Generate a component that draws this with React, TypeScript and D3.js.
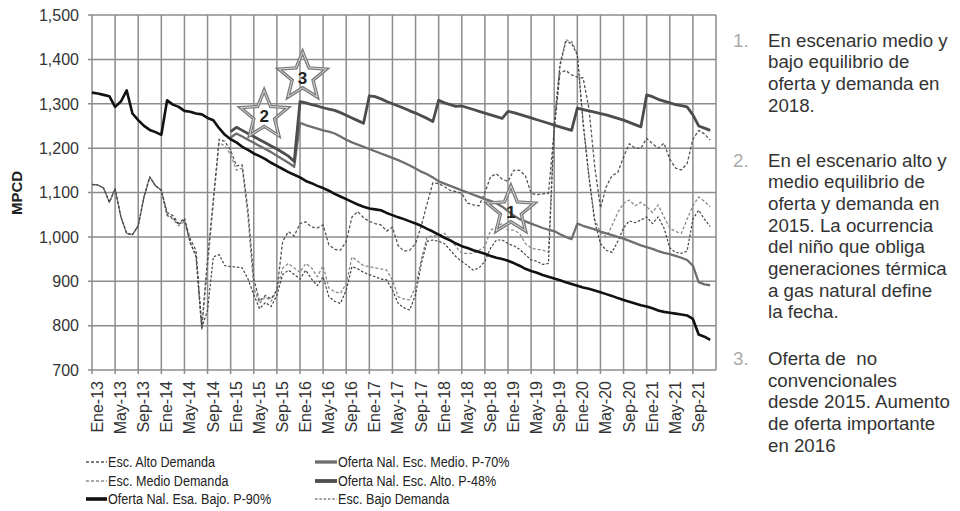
import React from 'react';
import * as d3 from 'd3';

// ---------- DATA ----------
const tickLabels = ["Ene-13","May-13","Sep-13","Ene-14","May-14","Sep-14","Ene-15","May-15","Sep-15","Ene-16","May-16","Sep-16","Ene-17","May-17","Sep-17","Ene-18","May-18","Sep-18","Ene-19","May-19","Sep-19","Ene-20","May-20","Sep-20","Ene-21","May-21","Sep-21"];
const yTicks = [700, 800, 900, 1000, 1100, 1200, 1300, 1400, 1500];

// monthly values Ene-13 .. Dic-21 (108 months)
const altoDemanda = [
  1118,1117,1110,1078,1108,1045,1008,1005,1025,1090,1135,1115,1105,
  1055,1048,1030,1042,995,970,800,950,1085,1220,1215,1195,1160,1162,1060,905,855,868,860,880,990,1012,1002,
  1030,1034,1022,1020,1027,982,972,970,990,1045,1057,1043,1035,1030,1027,1013,1022,980,968,970,985,1025,1075,1122,
  1120,1113,1105,1102,1098,1076,1072,1070,1100,1136,1142,1130,1125,1150,1150,1138,1098,1095,1097,1098,
  1240,1369,1375,1365,1360,1358,1290,1160,1065,1113,1138,1145,1180,1210,1200,1200,1222,1210,1200,1211,1175,1155,1151,1165,1220,1240,1232,1218
];
const medioDemanda = [
  1118,1117,1110,1078,1108,1045,1008,1005,1025,1090,1135,1115,1105,
  1048,1040,1025,1035,985,960,790,935,1075,1212,1205,1185,1150,1155,1045,885,850,865,855,880,930,940,930,
  920,940,930,910,935,885,876,873,895,955,945,935,933,930,928,925,903,865,860,858,888,950,1000,1002,
  1004,1008,995,978,963,963,963,970,978,1015,1023,1030,1015,1015,1008,985,975,972,970,965,
  1255,1390,1444,1440,1414,1260,1140,1040,1010,1000,1025,1055,1076,1083,1070,1078,1068,1055,1072,1045,1020,1012,1008,1040,1070,1090,1080,1068
];
const bajoDemanda = [
  1118,1117,1110,1078,1108,1045,1008,1005,1025,1090,1135,1115,1105,
  1050,1043,1028,1038,988,955,795,835,955,960,935,933,932,930,905,870,838,852,843,868,915,925,915,
  905,925,905,890,910,865,855,850,880,933,928,920,915,910,905,903,880,850,840,835,870,940,990,993,
  990,985,970,955,945,935,925,930,945,975,993,993,985,980,972,960,948,945,938,940,
  1250,1385,1440,1436,1410,1255,1135,1035,985,970,965,990,1020,1036,1032,1038,1045,1030,1045,1020,975,965,963,968,1040,1060,1040,1023
];
const ofertaBajo = [
  1325,1323,1320,1317,1293,1305,1330,1278,1263,1250,1241,1236,1230,
  1308,1298,1293,1284,1282,1278,1276,1268,1263,1245,1230,1220,1213,1203,1196,1188,1182,1175,1167,1160,1153,1146,1140,
  1134,1126,1121,1115,1110,1104,1097,1091,1085,1079,1073,1068,1064,1062,1060,1054,1049,1044,1040,1035,1030,1025,1018,1012,
  1005,998,992,985,979,975,970,966,962,957,953,950,946,941,935,928,923,919,914,910,
  906,902,898,894,890,886,883,879,875,871,867,862,858,854,850,846,843,839,834,831,829,827,825,823,815,780,775,768
];
const N0 = [null,null,null,null,null,null,null,null,null,null,null,null,null,null,null,null,null,null,null,null,null,null,null,null];
const ofertaAlto = [
  ...N0,
  1237,1247,1240,1233,1226,1219,1212,1205,1198,1190,1182,1170,
  1305,1302,1298,1295,1291,1288,1285,1280,1274,1268,1262,1256,
  1318,1316,1311,1305,1300,1295,1290,1284,1279,1273,1267,1260,
  1308,1302,1298,1294,1295,1291,1287,1283,1279,1275,1271,1267,
  1283,1280,1276,1272,1268,1264,1260,1256,1252,1248,1244,1240,
  1290,1287,1284,1281,1278,1275,1271,1267,1263,1258,1253,1248,
  1320,1316,1310,1306,1302,1298,1296,1293,1275,1250,1245,1240
];
const ofertaMedio = [
  ...N0,
  1224,1233,1226,1219,1212,1205,1198,1191,1183,1175,1167,1158,
  1257,1252,1248,1244,1240,1237,1233,1226,1219,1213,1208,1203,
  1198,1193,1188,1183,1178,1173,1167,1161,1154,1147,1141,1134,
  1125,1120,1115,1110,1105,1100,1095,1090,1085,1081,1076,1068,
  1058,1048,1040,1035,1030,1025,1020,1016,1013,1006,1000,995,
  1030,1025,1021,1017,1012,1008,1004,1000,996,991,986,981,
  977,973,968,964,961,957,953,948,935,898,893,891
];

const starLabels = ["1", "2", "3"];
const starMonth = [72.5, 29.8, 36.45];
const starValue = [1061, 1276, 1363];

const legendLeft = ["Esc. Alto Demanda", "Esc. Medio Demanda", "Oferta Nal. Esa. Bajo. P-90%"];
const legendRight = ["Oferta Nal. Esc. Medio. P-70%", "Oferta Nal. Esc. Alto. P-48%", "Esc. Bajo Demanda"];

const notes = [
  { num: "1.", lines: ["En escenario medio y", "bajo equilibrio de", "oferta y demanda en", "2018."] },
  { num: "2.", lines: ["En el escenario alto y", "medio equilibrio de", "oferta y demanda en", "2015. La ocurrencia", "del niño que obliga", "generaciones térmica", "a gas natural define", "la fecha."] },
  { num: "3.", lines: ["Oferta de  no", "convencionales", "desde 2015. Aumento", "de oferta importante", "en 2016"] },
];

// ---------- STYLES ----------
const FONT = "'Liberation Sans', Arial, Helvetica, sans-serif";
const styles = {
  altoD: { stroke: "#555", width: 1.3, dash: "3,2" },
  medioD: { stroke: "#8a8a8a", width: 1.3, dash: "3,2", offset: 2 },
  bajoD: { stroke: "#444", width: 1.2, dash: "2.5,1.8", offset: 1 },
  oMedio: { stroke: "#6e6e6e", width: 2.3 },
  oAlto: { stroke: "#4d4d4d", width: 2.8 },
  oBajo: { stroke: "#111", width: 2.6 },
};

function starPath(cx: number, cy: number, r: number, ri: number) {
  const pts: [number, number][] = [];
  for (let i = 0; i < 10; i++) {
    const a = -Math.PI / 2 + (i * Math.PI) / 5;
    const rr = i % 2 === 0 ? r : ri;
    pts.push([cx + rr * Math.cos(a), cy + rr * Math.sin(a)]);
  }
  return "M" + pts.map(p => p[0].toFixed(2) + "," + p[1].toFixed(2)).join("L") + "Z";
}

export default function App() {
  const W = 960, H = 511;
  const x = d3.scaleLinear().domain([0, 108]).range([92, 716]);
  const y = d3.scaleLinear().domain([700, 1500]).range([370, 15]);
  const line = d3.line<number | null>()
    .defined(d => d != null)
    .x((_, i) => x(i))
    .y(d => y(d as number));

  const tickMonths = tickLabels.map((_, i) => i * 4);

  const series = [
    { data: medioDemanda, s: styles.medioD },
    { data: altoDemanda, s: styles.altoD },
    { data: bajoDemanda, s: styles.bajoD },
    { data: ofertaMedio, s: styles.oMedio },
    { data: ofertaAlto, s: styles.oAlto },
    { data: ofertaBajo, s: styles.oBajo },
  ];

  const legL = [styles.altoD, styles.medioD, styles.oBajo];
  const legR = [styles.oMedio, styles.oAlto, styles.bajoD];
  const legY = [462, 481, 499];

  let noteY = [46.7, 166.7, 365];
  const lh = 21.65;

  return (
    <svg width={W} height={H} style={{ position: "absolute", left: 0, top: 0, background: "#fff" }} fontFamily={FONT}>
      <rect x={0} y={0} width={W} height={H} fill="#fff" />
      {/* gridlines */}
      <g stroke="#8c8c8c" strokeWidth={1.5}>
        {yTicks.map(t => (
          <line key={"h" + t} x1={88} x2={x(108)} y1={y(t)} y2={y(t)} />
        ))}
        {tickMonths.map(m => (
          <line key={"v" + m} x1={x(m)} x2={x(m)} y1={y(1500)} y2={y(700) + 4} />
        ))}
        <line x1={x(108)} x2={x(108)} y1={y(1500)} y2={y(700)} />
      </g>
      {/* y labels */}
      <g fontSize={16} fill="#333" textAnchor="end">
        {yTicks.map(t => (
          <text key={"yl" + t} x={79} y={y(t)} dy="0.36em">{d3.format(",")(t)}</text>
        ))}
      </g>
      <text transform={`translate(17,193) rotate(-90)`} textAnchor="middle" dy="0.35em" fontSize={15} fontWeight="bold" fill="#222">MPCD</text>
      {/* x labels */}
      <g fontSize={16} fill="#333" textAnchor="end">
        {tickLabels.map((l, i) => (
          <text key={l} transform={`translate(${x(tickMonths[i]) + 11},381) rotate(-90)`}>{l}</text>
        ))}
      </g>
      {/* series */}
      <g fill="none" strokeLinejoin="round">
        {series.map((sr, i) => (
          <path key={i} d={line(sr.data as (number | null)[]) || ""} stroke={sr.s.stroke} strokeWidth={sr.s.width}
            strokeDasharray={(sr.s as any).dash} strokeDashoffset={(sr.s as any).offset || 0} />
        ))}
      </g>
      {/* stars */}
      {starLabels.map((lab, i) => {
        const cx = x(starMonth[i]), cy = y(starValue[i]);
        const p = starPath(cx, cy + 1, 25, 11);
        return (
          <g key={"st" + lab}>
            <path d={p} fill="none" stroke="#7a7a7a" strokeWidth={3.4} strokeLinejoin="miter" />
            <path d={p} fill="none" stroke="#d8d8d8" strokeWidth={1} strokeLinejoin="miter" />
            <text x={cx} y={cy + 2} dy="0.35em" textAnchor="middle" fontSize={17} fontWeight="bold" fill="#222">{lab}</text>
          </g>
        );
      })}
      {/* legend */}
      <g fontSize={15} fill="#222">
        {legendLeft.map((l, i) => (
          <g key={"ll" + i}>
            <line x1={86} x2={107} y1={legY[i]} y2={legY[i]} stroke={legL[i].stroke} strokeWidth={legL[i].width + (legL[i].dash ? 0 : 1)} strokeDasharray={(legL[i] as any).dash} />
            <text transform={`translate(108,${legY[i]}) scale(0.84,1)`} dy="0.36em">{l}</text>
          </g>
        ))}
        {legendRight.map((l, i) => (
          <g key={"lr" + i}>
            <line x1={315} x2={337} y1={legY[i]} y2={legY[i]} stroke={legR[i].stroke} strokeWidth={legR[i].width + ((legR[i] as any).dash ? 0 : 1)} strokeDasharray={(legR[i] as any).dash} />
            <text transform={`translate(338,${legY[i]}) scale(0.84,1)`} dy="0.36em">{l}</text>
          </g>
        ))}
      </g>
      {/* notes */}
      <g fontSize={18.7}>
        {notes.map((n, i) => (
          <g key={"n" + i}>
            <text x={733} y={noteY[i]} fill="#aaa">{n.num}</text>
            {n.lines.map((ln, j) => (
              <text key={j} x={768} y={noteY[i] + j * lh} fill="#333" style={{ whiteSpace: "pre" }}>{ln}</text>
            ))}
          </g>
        ))}
      </g>
    </svg>
  );
}
